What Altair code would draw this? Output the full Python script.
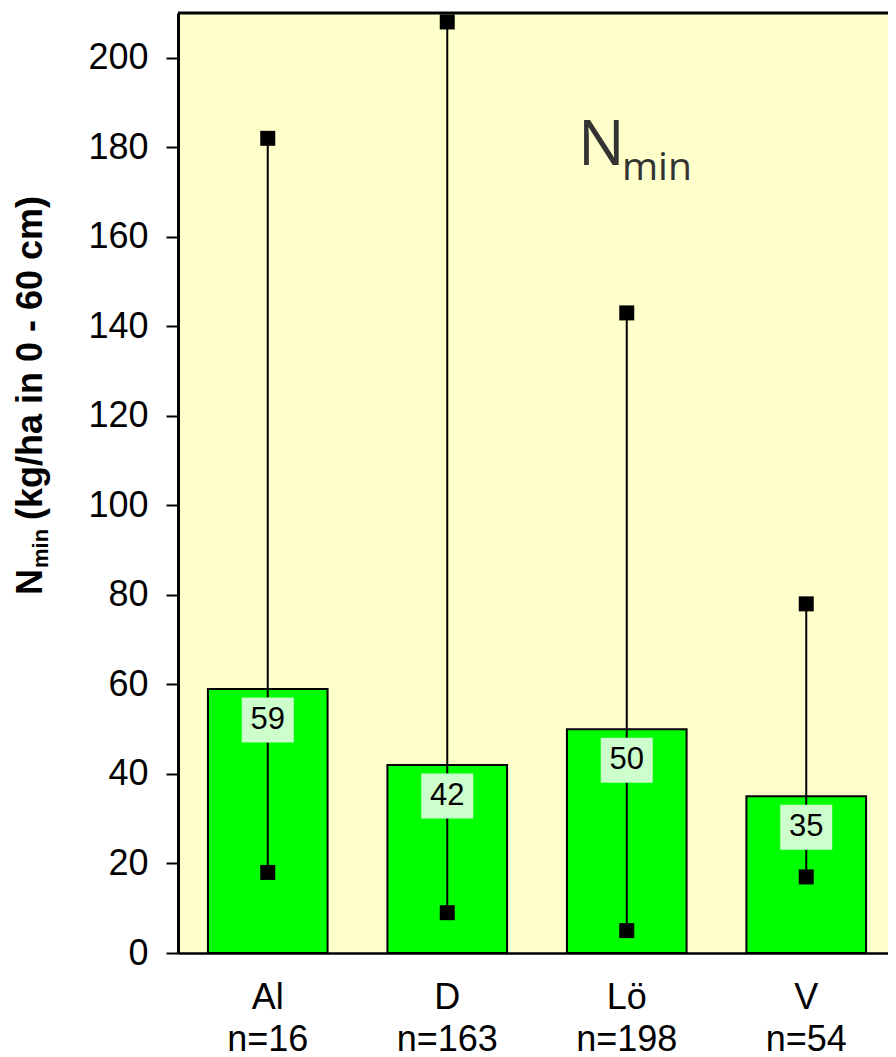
import altair as alt
import pandas as pd

categories = ["Al", "D", "Lö", "V"]
n_values = [16, 163, 198, 54]
means = [59, 42, 50, 35]
mins = [18, 9, 5, 17]
maxs = [182, 208, 143, 78]
y_ticks = [0, 20, 40, 60, 80, 100, 120, 140, 160, 180, 200]

labels = [f"{c}|n={n}" for c, n in zip(categories, n_values)]
df = pd.DataFrame({"label": labels, "mean": means, "min": mins, "max": maxs})

FONT = "Liberation Sans"
W, H = 718, 940

xenc = alt.X("label:N", sort=labels,
             scale=alt.Scale(paddingInner=1/3, paddingOuter=1/6),
             axis=alt.Axis(title=None, labelExpr="split(datum.label, '|')",
                           labelAngle=0, labelFont=FONT, labelFontSize=36,
                           labelColor="black", labelPadding=27,
                           labelLineHeight=42, ticks=False,
                           domainColor="black", domainWidth=2.5))
yscale = alt.Scale(domain=[0, 210], nice=False)
yaxis = alt.Axis(title=None, values=y_ticks, grid=False, labelFont=FONT,
                 labelFontSize=36, labelColor="black", labelPadding=18,
                 tickSize=12, tickColor="black", tickWidth=2,
                 domainColor="black", domainWidth=3)

base = alt.Chart(df)

bars = base.mark_bar(fill="#00ff00", stroke="black", strokeWidth=2).encode(
    x=xenc, y=alt.Y("mean:Q", scale=yscale, axis=yaxis))

rules = base.mark_rule(color="black", strokeWidth=2).encode(
    x=alt.X("label:N", sort=labels), y="min:Q", y2="max:Q")

squares = base.transform_fold(["min", "max"], as_=["k", "v"]).mark_square(
    color="black", size=225, opacity=1, filled=True).encode(
    x=alt.X("label:N", sort=labels), y="v:Q")

boxes = base.mark_point(
    shape="M-1,-0.865L1,-0.865L1,0.865L-1,0.865Z", size=2704,
    filled=True, fill="#ccffcc", opacity=1, strokeWidth=0, yOffset=31).encode(
    x=alt.X("label:N", sort=labels), y="mean:Q")

texts = base.mark_text(font=FONT, fontSize=31, color="black",
                       baseline="middle", yOffset=31).encode(
    x=alt.X("label:N", sort=labels), y="mean:Q", text="mean:Q")

one = alt.Data(values=[{"a": 1}])

top_border = alt.Chart(one).mark_rule(color="black", strokeWidth=3).encode(
    x=alt.value(0), x2=alt.value(W), y=alt.value(0))

title_N = alt.Chart(one).mark_text(
    text="N", font="Open Sans", fontSize=62, color="#333333",
    align="left", baseline="alphabetic").encode(
    x=alt.value(400), y=alt.value(152))
title_min = alt.Chart(one).mark_text(
    text="min", font="Open Sans", fontSize=39, color="#333333",
    align="left", baseline="alphabetic").encode(
    x=alt.value(444), y=alt.value(167))

ax_N = alt.Chart(one).mark_text(
    text="N", font=FONT, fontSize=36, fontWeight="bold", color="black",
    align="left", baseline="alphabetic", angle=270).encode(
    x=alt.value(-136), y=alt.value(582))
ax_min = alt.Chart(one).mark_text(
    text="min", font=FONT, fontSize=22, fontWeight="bold", color="black",
    align="left", baseline="alphabetic", angle=270).encode(
    x=alt.value(-130), y=alt.value(555))
ax_rest = alt.Chart(one).mark_text(
    text="(kg/ha in 0 - 60 cm)", font=FONT, fontSize=36, fontWeight="bold",
    color="black", align="left", baseline="alphabetic", angle=270).encode(
    x=alt.value(-136), y=alt.value(507))

chart = alt.layer(
    bars, rules, squares, boxes, texts, top_border,
    title_N, title_min, ax_N, ax_min, ax_rest
).properties(
    width=W, height=H,
    padding={"left": 170, "top": 5, "right": -8, "bottom": 103},
    autosize=alt.AutoSizeParams(type="none"),
).configure_view(fill="#ffffcc", stroke="transparent")

chart.save("out.html", embed_options={"renderer": "svg", "actions": False})
